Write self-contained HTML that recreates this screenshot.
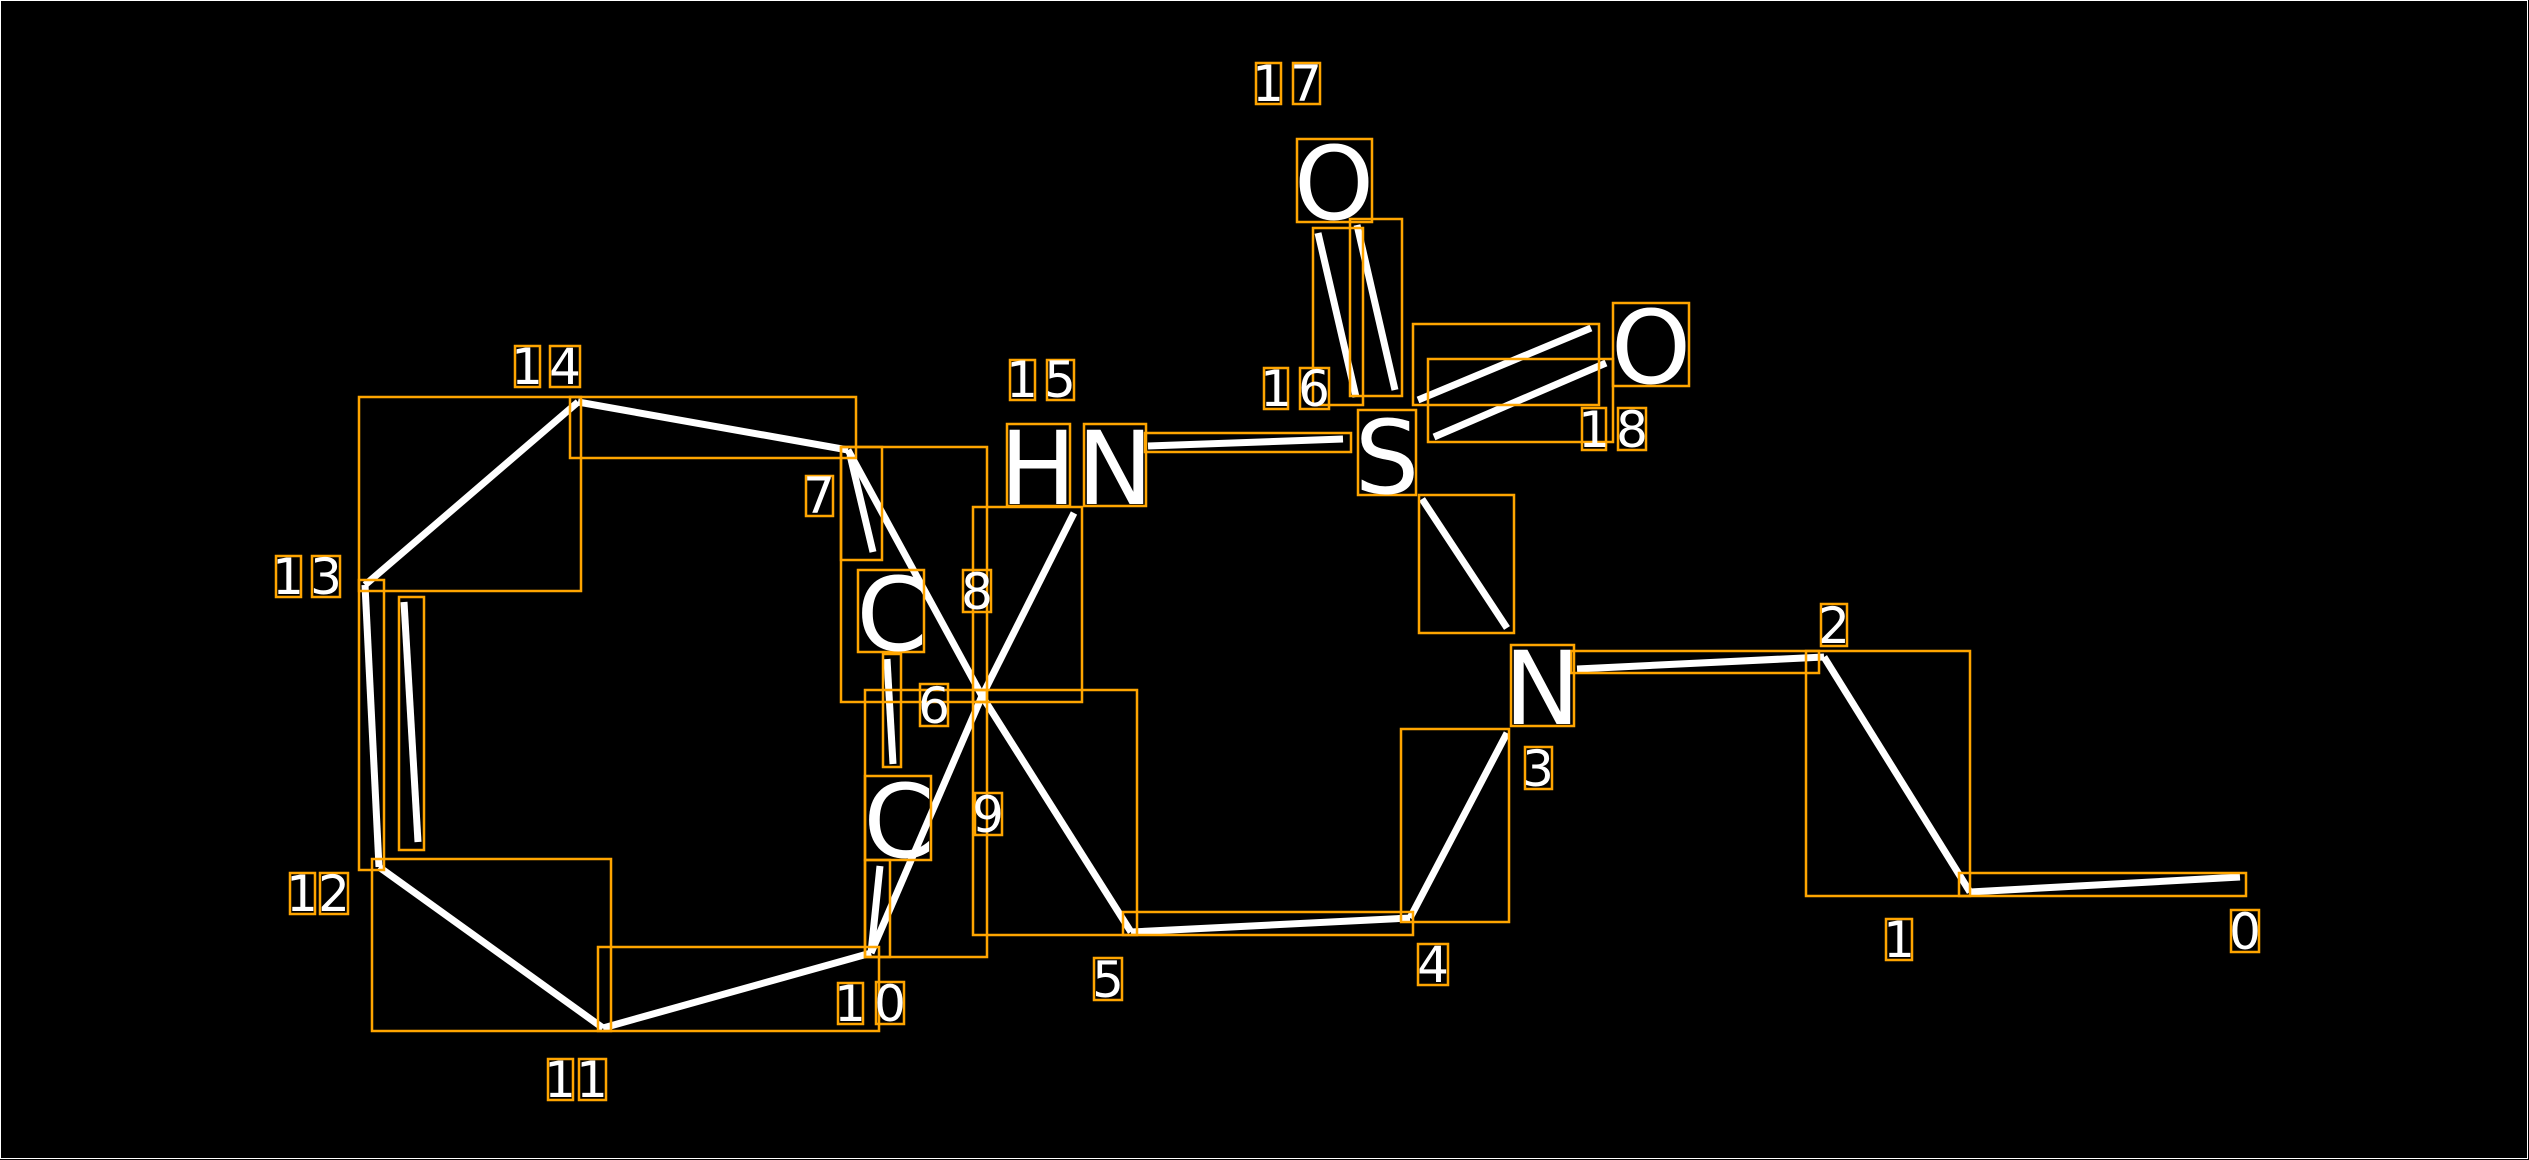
<!DOCTYPE html>
<html><head><meta charset="utf-8"><style>
html,body{margin:0;padding:0;background:#000;}
svg{display:block;}
text{font-family:"DejaVu Sans","Liberation Sans",sans-serif;fill:#fff;}
</style></head><body>
<svg width="2529" height="1160" viewBox="0 0 2529 1160" xmlns="http://www.w3.org/2000/svg">
<rect x="0" y="0" width="2529" height="1160" fill="#000"/>
<rect x="0.5" y="0.5" width="2527" height="1158" fill="none" stroke="#fff" stroke-width="1"/>
<g stroke="#fff" stroke-width="7" stroke-linecap="butt" fill="none">
<line x1="578" y1="402" x2="848" y2="450"/>
<line x1="578" y1="402" x2="365" y2="585"/>
<line x1="365" y1="585" x2="379" y2="867"/>
<line x1="404" y1="602" x2="418" y2="842"/>
<line x1="379" y1="867" x2="603" y2="1028"/>
<line x1="603" y1="1028" x2="871" y2="953"/>
<line x1="871" y1="953" x2="880" y2="866"/>
<line x1="871" y1="953" x2="982" y2="696"/>
<line x1="887" y1="659" x2="893" y2="764"/>
<line x1="850" y1="455" x2="873" y2="552"/>
<line x1="848" y1="450" x2="982" y2="696"/>
<line x1="982" y1="696" x2="1074" y2="513"/>
<line x1="982" y1="696" x2="1131" y2="932"/>
<line x1="1131" y1="932" x2="1410" y2="918"/>
<line x1="1410" y1="918" x2="1507" y2="733"/>
<line x1="1507" y1="628" x2="1422" y2="499"/>
<line x1="1148" y1="446" x2="1343" y2="439"/>
<line x1="1356" y1="397" x2="1318" y2="233"/>
<line x1="1395" y1="390" x2="1357" y2="225"/>
<line x1="1418" y1="400" x2="1591" y2="328"/>
<line x1="1434" y1="437" x2="1606" y2="363"/>
<line x1="1577" y1="669" x2="1824" y2="657"/>
<line x1="1824" y1="657" x2="1970" y2="892"/>
<line x1="1970" y1="892" x2="2240" y2="877"/>
</g>
<g stroke="#FFA500" stroke-width="2.5" fill="none">
<rect x="570" y="397" width="286" height="61"/>
<rect x="359" y="397" width="222" height="194"/>
<rect x="359" y="580" width="25" height="290"/>
<rect x="399" y="597" width="25" height="253"/>
<rect x="372" y="859" width="239" height="172"/>
<rect x="598" y="947" width="281" height="84"/>
<rect x="841" y="447" width="41" height="113"/>
<rect x="841" y="447" width="146" height="255"/>
<rect x="973" y="507" width="109" height="195"/>
<rect x="883" y="654" width="18" height="113"/>
<rect x="865" y="690" width="122" height="267"/>
<rect x="973" y="690" width="164" height="245"/>
<rect x="865" y="860" width="25" height="97"/>
<rect x="1123" y="912" width="290" height="23"/>
<rect x="1401" y="729" width="108" height="193"/>
<rect x="1419" y="495" width="95" height="138"/>
<rect x="1145" y="433" width="206" height="19"/>
<rect x="1313" y="228" width="50" height="177"/>
<rect x="1350" y="219" width="52" height="177"/>
<rect x="1413" y="324" width="186" height="81"/>
<rect x="1428" y="359" width="185" height="83"/>
<rect x="1571" y="651" width="248" height="22"/>
<rect x="1806" y="651" width="164" height="245"/>
<rect x="1959" y="873" width="287" height="23"/>
<rect x="1297" y="139" width="75" height="83"/>
<rect x="1613" y="303" width="76" height="83"/>
<rect x="1007" y="424" width="63" height="82"/>
<rect x="1084" y="424" width="62" height="82"/>
<rect x="1358" y="410" width="58" height="85"/>
<rect x="1511" y="645" width="63" height="81"/>
<rect x="858" y="570" width="66" height="82"/>
<rect x="865" y="776" width="66" height="84"/>
<rect x="1256" y="63" width="25" height="41"/><rect x="1293" y="63" width="27" height="41"/>
<rect x="515" y="346" width="25" height="41"/><rect x="550" y="346" width="30" height="41"/>
<rect x="1010" y="360" width="25" height="40"/><rect x="1047" y="360" width="27" height="40"/>
<rect x="1264" y="368" width="24" height="41"/><rect x="1300" y="368" width="29" height="41"/>
<rect x="1582" y="408" width="24" height="42"/><rect x="1618" y="408" width="28" height="42"/>
<rect x="276" y="556" width="25" height="41"/><rect x="312" y="556" width="28" height="41"/>
<rect x="806" y="476" width="27" height="40"/>
<rect x="963" y="570" width="28" height="42"/>
<rect x="920" y="684" width="28" height="42"/>
<rect x="1821" y="604" width="26" height="42"/>
<rect x="1525" y="747" width="27" height="42"/>
<rect x="975" y="793" width="27" height="42"/>
<rect x="290" y="873" width="25" height="41"/><rect x="320" y="873" width="28" height="41"/>
<rect x="1094" y="958" width="28" height="42"/>
<rect x="1418" y="944" width="30" height="41"/>
<rect x="838" y="983" width="25" height="41"/><rect x="876" y="982" width="28" height="42"/>
<rect x="548" y="1059" width="25" height="41"/><rect x="579" y="1059" width="27" height="41"/>
<rect x="1886" y="919" width="26" height="41"/>
<rect x="2231" y="910" width="28" height="42"/>
</g>
<g font-size="102">
<text x="1334" y="219" text-anchor="middle">O</text>
<text x="1651" y="383" text-anchor="middle">O</text>
<text x="1038" y="504" text-anchor="middle">H</text>
<text x="1115" y="504" text-anchor="middle">N</text>
<text x="1387" y="493" text-anchor="middle">S</text>
<text x="1542" y="724" text-anchor="middle">N</text>
<text x="892" y="650" text-anchor="middle">C</text>
<text x="899" y="857" text-anchor="middle">C</text>
</g>
<g font-size="50" text-anchor="middle">
<text x="1268" y="101">1</text><text x="1306" y="101">7</text>
<text x="527" y="384">1</text><text x="565" y="384">4</text>
<text x="1022" y="397">1</text><text x="1060" y="397">5</text>
<text x="1276" y="406">1</text><text x="1314" y="406">6</text>
<text x="1594" y="447">1</text><text x="1632" y="447">8</text>
<text x="288" y="594">1</text><text x="326" y="594">3</text>
<text x="819" y="513">7</text>
<text x="977" y="609">8</text>
<text x="934" y="723">6</text>
<text x="1834" y="643">2</text>
<text x="1538" y="786">3</text>
<text x="988" y="832">9</text>
<text x="302" y="911">1</text><text x="334" y="911">2</text>
<text x="1108" y="997">5</text>
<text x="1433" y="982">4</text>
<text x="850" y="1021">1</text><text x="890" y="1021">0</text>
<text x="560" y="1097">1</text><text x="592" y="1097">1</text>
<text x="1899" y="957">1</text>
<text x="2245" y="949">0</text>
</g>
</svg>
</body></html>
